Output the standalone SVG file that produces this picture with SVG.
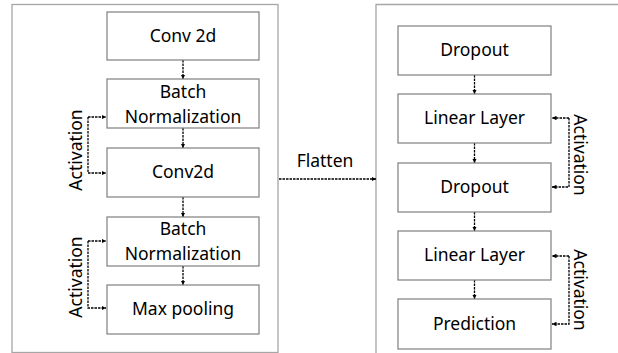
<svg xmlns="http://www.w3.org/2000/svg" width="618" height="353" viewBox="0 0 618 353">
<style>
.panel{fill:none;stroke:#a6a6a6;stroke-width:1.3}
.box{fill:#fff;stroke:#7f7f7f;stroke-width:1.2}
.t{font-family:"Noto Sans","Open Sans",sans-serif;font-size:17.5px;fill:#000;text-anchor:middle}
.c{fill:none;stroke:#000;stroke-width:1.3;stroke-dasharray:2.5 1}
</style>
<defs>
<marker id="ah" viewBox="0 0 6 6" refX="6" refY="3" markerWidth="4.5" markerHeight="4.5" orient="auto" markerUnits="userSpaceOnUse">
<path d="M0,0 L6,3 L0,6 z" fill="#000"/>
</marker>
</defs>
<rect class="panel" x="12" y="4.5" width="266" height="348"/>
<path class="panel" d="M376,360 V4.5 H620" stroke="#c0c0c0"/>
<g id="connectors">
<path class="c" d="M183,60 V79" marker-end="url(#ah)"/>
<path class="c" d="M183,128 V148" marker-end="url(#ah)"/>
<path class="c" d="M183,197 V217" marker-end="url(#ah)"/>
<path class="c" d="M183,266 V285" marker-end="url(#ah)"/>
<path class="c" d="M474.5,75 V94" marker-end="url(#ah)"/>
<path class="c" d="M474.5,143 V163" marker-end="url(#ah)"/>
<path class="c" d="M474.5,212 V231" marker-end="url(#ah)"/>
<path class="c" d="M474.5,280 V299" marker-end="url(#ah)"/>
<path class="c" d="M88,117 V173 H106" marker-end="url(#ah)"/>
<path class="c" d="M88,117 H106" marker-end="url(#ah)"/>
<path class="c" d="M88,241 V308 H106" marker-end="url(#ah)"/>
<path class="c" d="M88,241 H106" marker-end="url(#ah)"/>
<path class="c" d="M569,118 V187 H552" marker-end="url(#ah)"/>
<path class="c" d="M569,118 H552" marker-end="url(#ah)"/>
<path class="c" d="M569,256 V324 H552" marker-end="url(#ah)"/>
<path class="c" d="M569,256 H552" marker-end="url(#ah)"/>
<path class="c" d="M279,179 H376" marker-end="url(#ah)"/>
<text class="t" x="325" y="167">Flatten</text>
<text class="t" transform="translate(82,150) rotate(-90)">Activation</text>
<text class="t" transform="translate(82,277) rotate(-90)">Activation</text>
<text class="t" transform="translate(574,155) rotate(90)">Activation</text>
<text class="t" transform="translate(574,290) rotate(90)">Activation</text>
</g>
<g id="conv2d_1"><rect class="box" x="107" y="12" width="152" height="48"/><text class="t" x="183" y="42">Conv 2d</text></g>
<g id="bn_1"><rect class="box" x="107" y="79" width="152" height="49"/><text class="t" x="183" y="98">Batch</text><text class="t" x="183" y="123">Normalization</text></g>
<g id="conv2d_2"><rect class="box" x="107" y="148" width="152" height="49"/><text class="t" x="183" y="178">Conv2d</text></g>
<g id="bn_2"><rect class="box" x="107" y="217" width="152" height="49"/><text class="t" x="183" y="235">Batch</text><text class="t" x="183" y="260">Normalization</text></g>
<g id="maxpool"><rect class="box" x="107" y="285" width="152" height="49"/><text class="t" x="183" y="315">Max pooling</text></g>
<g id="dropout_1"><rect class="box" x="398" y="26" width="153" height="49"/><text class="t" x="474.5" y="56">Dropout</text></g>
<g id="linear_1"><rect class="box" x="398" y="94" width="153" height="49"/><text class="t" x="474.5" y="124">Linear Layer</text></g>
<g id="dropout_2"><rect class="box" x="398" y="163" width="153" height="49"/><text class="t" x="474.5" y="193">Dropout</text></g>
<g id="linear_2"><rect class="box" x="398" y="231" width="153" height="49"/><text class="t" x="474.5" y="261">Linear Layer</text></g>
<g id="prediction"><rect class="box" x="398" y="299" width="153" height="50"/><text class="t" x="474.5" y="330">Prediction</text></g>
</svg>
